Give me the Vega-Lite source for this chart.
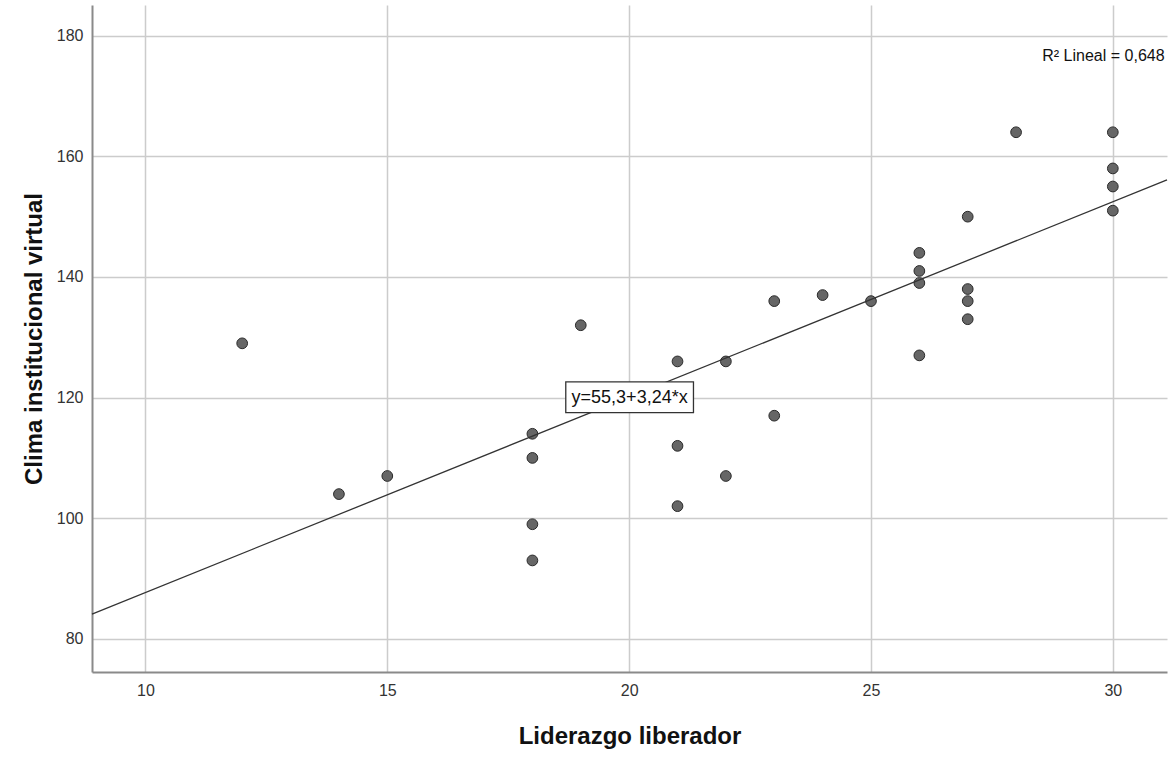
{
  "$schema": "https://vega.github.io/schema/vega-lite/v6.json",
  "width": 1075,
  "height": 667,
  "autosize": {"type": "none"},
  "padding": {"left": 92, "top": 5, "right": 9, "bottom": 88},
  "background": "white",
  "config": {
    "font": "Liberation Sans",
    "view": {"stroke": null},
    "axis": {
      "grid": true,
      "gridColor": "#cccccc",
      "gridWidth": 1.5,
      "ticks": false,
      "domainColor": "#8a8a8a",
      "domainWidth": 2,
      "labelFont": "Liberation Sans",
      "labelFontSize": 16,
      "labelColor": "#333333",
      "titleFont": "Liberation Sans",
      "titleFontSize": 24,
      "titleFontWeight": "bold",
      "titleColor": "#111111"
    }
  },
  "datasets": {
    "points": [
      {"liderazgo": 12, "clima": 129},
      {"liderazgo": 14, "clima": 104},
      {"liderazgo": 15, "clima": 107},
      {"liderazgo": 18, "clima": 114},
      {"liderazgo": 18, "clima": 110},
      {"liderazgo": 18, "clima": 99},
      {"liderazgo": 18, "clima": 93},
      {"liderazgo": 19, "clima": 132},
      {"liderazgo": 21, "clima": 126},
      {"liderazgo": 21, "clima": 112},
      {"liderazgo": 21, "clima": 102},
      {"liderazgo": 22, "clima": 126},
      {"liderazgo": 22, "clima": 107},
      {"liderazgo": 23, "clima": 136},
      {"liderazgo": 23, "clima": 117},
      {"liderazgo": 24, "clima": 137},
      {"liderazgo": 25, "clima": 136},
      {"liderazgo": 26, "clima": 144},
      {"liderazgo": 26, "clima": 141},
      {"liderazgo": 26, "clima": 139},
      {"liderazgo": 26, "clima": 127},
      {"liderazgo": 27, "clima": 150},
      {"liderazgo": 27, "clima": 138},
      {"liderazgo": 27, "clima": 136},
      {"liderazgo": 27, "clima": 133},
      {"liderazgo": 28, "clima": 164},
      {"liderazgo": 30, "clima": 164},
      {"liderazgo": 30, "clima": 158},
      {"liderazgo": 30, "clima": 155},
      {"liderazgo": 30, "clima": 151}
    ],
    "fit": [
      {"liderazgo": 8.895, "clima": 84.1},
      {"liderazgo": 31.12, "clima": 156.1}
    ]
  },
  "layer": [
    {
      "data": {"name": "points"},
      "mark": {"type": "point", "filled": true, "shape": "circle", "size": 115, "fill": "#666666", "stroke": "#2a2a2a", "strokeWidth": 1, "opacity": 1},
      "encoding": {
        "x": {
          "field": "liderazgo", "type": "quantitative",
          "scale": {"domain": [8.895, 31.12], "nice": false, "zero": false},
          "axis": {"values": [10, 15, 20, 25, 30], "title": "Liderazgo liberador", "labelPadding": 10, "titlePadding": 26}
        },
        "y": {
          "field": "clima", "type": "quantitative",
          "scale": {"domain": [74.5, 185.1], "nice": false, "zero": false},
          "axis": {"values": [80, 100, 120, 140, 160, 180], "title": "Clima institucional virtual", "labelPadding": 9, "titlePadding": 10}
        }
      }
    },
    {
      "data": {"name": "fit"},
      "mark": {"type": "line", "color": "#333333", "strokeWidth": 1.3},
      "encoding": {
        "x": {"field": "liderazgo", "type": "quantitative"},
        "y": {"field": "clima", "type": "quantitative"}
      }
    },
    {
      "data": {"values": [{}]},
      "mark": {"type": "rect", "fill": "white", "stroke": "#333333", "strokeWidth": 1.3},
      "encoding": {
        "x": {"datum": 18.69, "type": "quantitative"},
        "x2": {"datum": 21.33},
        "y": {"datum": 122.6, "type": "quantitative"},
        "y2": {"datum": 117.5}
      }
    },
    {
      "data": {"values": [{"label": "y=55,3+3,24*x"}]},
      "mark": {"type": "text", "fontSize": 18, "color": "#111111", "align": "center", "baseline": "middle"},
      "encoding": {
        "x": {"datum": 20.01, "type": "quantitative"},
        "y": {"datum": 120, "type": "quantitative"},
        "text": {"field": "label"}
      }
    },
    {
      "data": {"values": [{"label": "R² Lineal = 0,648"}]},
      "mark": {"type": "text", "fontSize": 16, "color": "#111111", "align": "right", "baseline": "middle"},
      "encoding": {
        "x": {"datum": 31.07, "type": "quantitative"},
        "y": {"datum": 176.6, "type": "quantitative"},
        "text": {"field": "label"}
      }
    }
  ]
}
